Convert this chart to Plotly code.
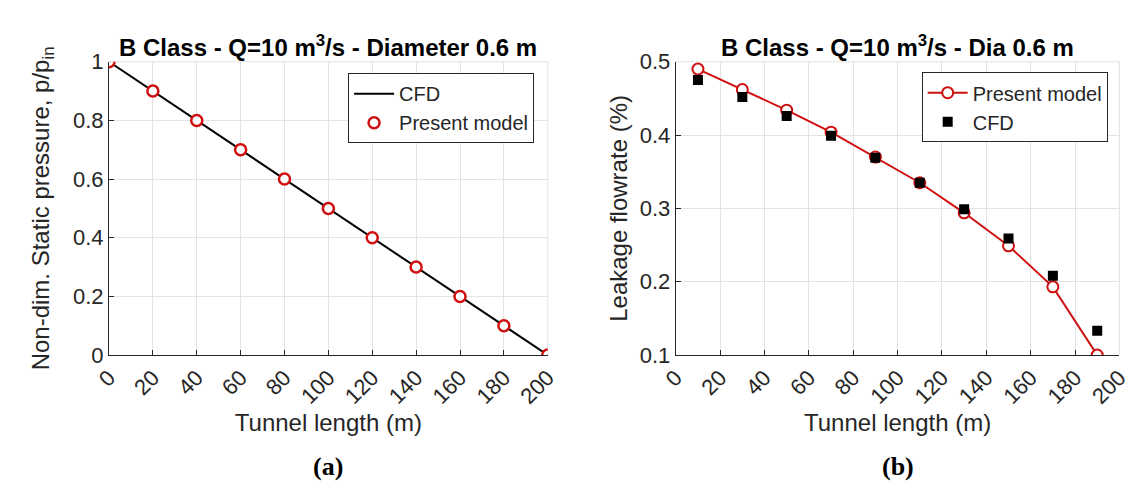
import plotly.graph_objects as go

# ---- data ----
tunnel_x = [0, 20, 40, 60, 80, 100, 120, 140, 160, 180, 200]
cfd_pressure = [1.0, 0.9, 0.8, 0.7, 0.6, 0.5, 0.4, 0.3, 0.2, 0.1, 0.0]
model_pressure = [1.0, 0.9, 0.8, 0.7, 0.6, 0.5, 0.4, 0.3, 0.2, 0.1, 0.0]

leak_x = [10, 30, 50, 70, 90, 110, 130, 150, 170, 190]
model_leak = [0.490, 0.462, 0.434, 0.404, 0.370, 0.335, 0.294, 0.249, 0.193, 0.100]
cfd_leak = [0.475, 0.452, 0.426, 0.399, 0.369, 0.335, 0.299, 0.259, 0.208, 0.133]

x_ticks = [0, 20, 40, 60, 80, 100, 120, 140, 160, 180, 200]
y_ticks_a = [0, 0.2, 0.4, 0.6, 0.8, 1]
y_ticks_b = [0.1, 0.2, 0.3, 0.4, 0.5]

RED = "#D01010"
TXT = "#262626"
GRID = "#E3E3E3"
FONT = "Liberation Sans, Arial, sans-serif"
SERIF = "Liberation Serif, Times New Roman, serif"

W, H = 1140, 492
def px(v):
    return v / W
def py(v):
    return 1 - v / H

fig = go.Figure()

# (a) left
fig.add_trace(go.Scatter(x=tunnel_x, y=cfd_pressure, mode="lines", name="CFD",
                         line=dict(color="black", width=2), xaxis="x", yaxis="y",
                         legend="legend"))
fig.add_trace(go.Scatter(x=tunnel_x, y=model_pressure, mode="markers", name="Present model",
                         marker=dict(symbol="circle", size=11, color="white",
                                     line=dict(color=RED, width=2.5)),
                         xaxis="x", yaxis="y", legend="legend"))

# (b) right
fig.add_trace(go.Scatter(x=leak_x, y=model_leak, mode="lines+markers", name="Present model",
                         line=dict(color=RED, width=2),
                         marker=dict(symbol="circle", size=11, color="white",
                                     line=dict(color=RED, width=2)),
                         xaxis="x2", yaxis="y2", legend="legend2"))
fig.add_trace(go.Scatter(x=leak_x, y=cfd_leak, mode="markers", name="CFD",
                         marker=dict(symbol="square", size=10, color="black"),
                         xaxis="x2", yaxis="y2", legend="legend2"))

common_x = dict(range=[0, 200], tickvals=x_ticks, tickangle=-45, showgrid=True,
                gridcolor=GRID, gridwidth=1, showline=True, linecolor=TXT, linewidth=1,
                ticks="inside", ticklen=5, tickcolor=TXT, zeroline=False,
                tickfont=dict(size=22, color=TXT, family=FONT))
common_y = dict(showgrid=True, gridcolor=GRID, gridwidth=1, showline=True, linecolor=TXT,
                linewidth=1, ticks="inside", ticklen=5, tickcolor=TXT, zeroline=False,
                tickfont=dict(size=22, color=TXT, family=FONT))

ydom = [py(353), py(44)]
fig.update_layout(
    width=W, height=H, margin=dict(l=0, r=0, t=0, b=0),
    paper_bgcolor="white", plot_bgcolor="white",
    font=dict(family=FONT, color=TXT),
    xaxis=dict(domain=[px(88), px(537)], anchor="y",
               title=dict(text="Tunnel length (m)", font=dict(size=24, color=TXT), standoff=0),
               **common_x),
    yaxis=dict(domain=ydom, anchor="x", range=[0, 1], tickvals=y_ticks_a,
               ticktext=["0", "0.2", "0.4", "0.6", "0.8", "1"],
               title=dict(text="Non-dim. Static pressure, p/p<sub>in</sub>",
                          font=dict(size=24, color=TXT), standoff=16),
               **common_y),
    xaxis2=dict(domain=[px(668), px(1122)], anchor="y2",
                title=dict(text="Tunnel length (m)", font=dict(size=24, color=TXT), standoff=0),
                **common_x),
    yaxis2=dict(domain=ydom, anchor="x2", range=[0.1, 0.5], tickvals=y_ticks_b,
                ticktext=["0.1", "0.2", "0.3", "0.4", "0.5"],
                title=dict(text="Leakage flowrate (%)", font=dict(size=24, color=TXT), standoff=5),
                **common_y),
    legend=dict(x=px(523), y=py(56), xanchor="right", yanchor="top",
                bgcolor="white", bordercolor=TXT, borderwidth=1,
                font=dict(size=20, color=TXT, family=FONT), traceorder="normal",
                tracegroupgap=0, itemwidth=40),
    legend2=dict(x=px(1110), y=py(55), xanchor="right", yanchor="top",
                 bgcolor="white", bordercolor=TXT, borderwidth=1,
                 font=dict(size=20, color=TXT, family=FONT), traceorder="normal",
                 tracegroupgap=0, itemwidth=40),
    showlegend=True,
)

# light top/right frame (grid box)
for xr, yr in (("x", "y"), ("x2", "y2")):
    fig.add_shape(type="line", xref=f"{xr} domain", yref=f"{yr} domain",
                  x0=0, x1=1, y0=1, y1=1, line=dict(color=GRID, width=1), layer="below")
    fig.add_shape(type="line", xref=f"{xr} domain", yref=f"{yr} domain",
                  x0=1, x1=1, y0=0, y1=1, line=dict(color=GRID, width=1), layer="below")

# titles
fig.add_annotation(text="<b>B Class - Q=10 m<sup>3</sup>/s - Diameter 0.6 m</b>",
                   x=px((88 + 537) / 2), y=py(27), xref="paper", yref="paper",
                   showarrow=False, xanchor="center", yanchor="middle",
                   font=dict(size=24, color="black", family=FONT))
fig.add_annotation(text="<b>B Class - Q=10 m<sup>3</sup>/s - Dia 0.6 m</b>",
                   x=px((668 + 1122) / 2), y=py(27), xref="paper", yref="paper",
                   showarrow=False, xanchor="center", yanchor="middle",
                   font=dict(size=24, color="black", family=FONT))

# captions
fig.add_annotation(text="<b>(a)</b>", x=px((88 + 537) / 2), y=py(470), xref="paper", yref="paper",
                   showarrow=False, xanchor="center", yanchor="middle",
                   font=dict(size=26, color="black", family=SERIF))
fig.add_annotation(text="<b>(b)</b>", x=px((668 + 1122) / 2), y=py(470), xref="paper", yref="paper",
                   showarrow=False, xanchor="center", yanchor="middle",
                   font=dict(size=26, color="black", family=SERIF))

fig.write_html("out.html")
